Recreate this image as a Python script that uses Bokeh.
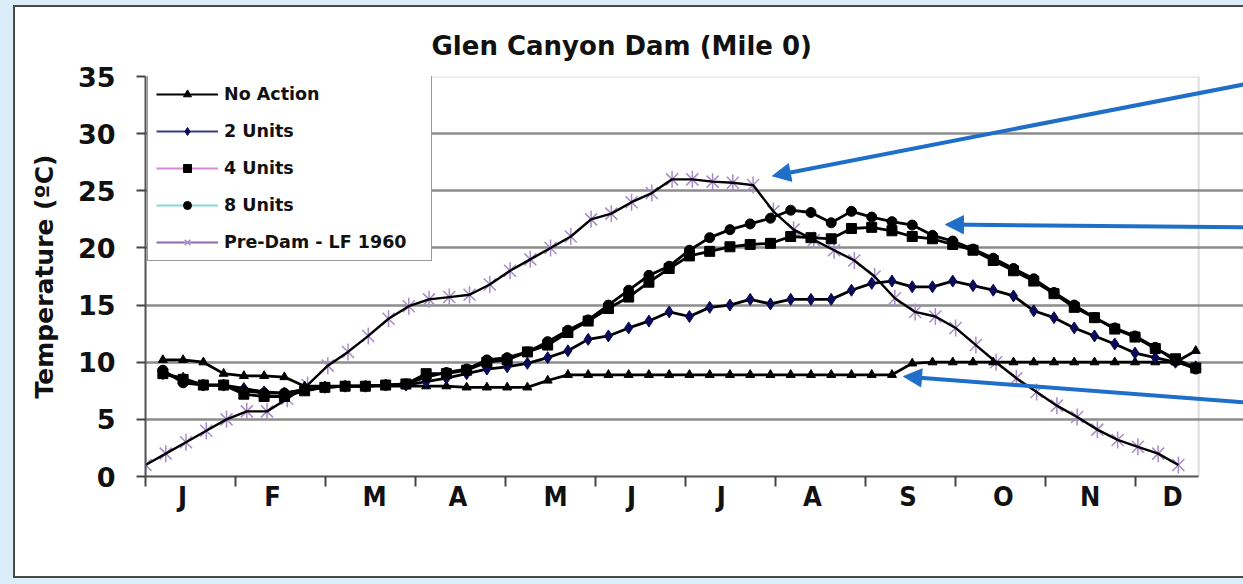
import math
from bokeh.plotting import figure
from bokeh.models import (Range1d, FixedTicker, Legend, LegendItem, Title,
                          Arrow, NormalHead, ColumnDataSource, BoxAnnotation)
from bokeh.embed import file_html
from bokeh.resources import INLINE

# ---------------- data ----------------
month_labels = ["J", "F", "M", "A", "M", "J", "J", "A", "S", "O", "N", "D"]
month_label_day = [12.8, 43.9, 79.2, 108.0, 141.7, 168.0, 199.0, 230.5, 263.5, 296.5, 326.5, 355.0]
month_start_day = [0, 31.1, 62.2, 93.3, 124.4, 155.5, 186.6, 217.7, 248.8, 279.9, 311.0, 342.1]
y_ticks = [0, 5, 10, 15, 20, 25, 30, 35]
axis_x_end = 364     # end of the drawn time axis (days)
axis_y_end = 35      # top of the temperature axis

pre_dam_day = [7 * i for i in range(52)]
model_day = [6 + 7 * i for i in range(52)]

pre_dam = [1.0, 2.0, 3.0, 4.0, 5.0, 5.7, 5.7, 6.8, 8.0, 9.7,
           10.9, 12.3, 13.8, 14.9, 15.5, 15.7, 15.9, 16.8, 18.0, 19.0,
           20.0, 21.0, 22.5, 23.0, 24.0, 24.8, 26.0, 26.0, 25.8, 25.7,
           25.5, 23.2, 21.6, 20.7, 19.8, 18.9, 17.5, 15.6, 14.4, 14.0,
           13.0, 11.5, 10.0, 8.6, 7.4, 6.2, 5.2, 4.1, 3.2, 2.6,
           2.0, 1.0]

no_action = [10.2, 10.2, 10.0, 9.0, 8.8, 8.8, 8.7, 7.9, 7.9, 7.9,
             7.9, 7.9, 7.9, 7.9, 7.9, 7.8, 7.8, 7.8, 7.8, 8.4,
             8.9, 8.9, 8.9, 8.9, 8.9, 8.9, 8.9, 8.9, 8.9, 8.9,
             8.9, 8.9, 8.9, 8.9, 8.9, 8.9, 8.9, 9.9, 10.0, 10.0,
             10.0, 10.0, 10.0, 10.0, 10.0, 10.0, 10.0, 10.0, 10.0, 10.0,
             10.0, 11.0]

units2 = [9.0, 8.6, 8.0, 8.0, 7.7, 7.4, 7.3, 7.6, 7.8, 7.9,
          7.9, 8.0, 8.0, 8.3, 8.6, 9.0, 9.4, 9.6, 9.9, 10.4,
          11.0, 12.0, 12.3, 13.0, 13.6, 14.4, 14.0, 14.8, 15.0, 15.5,
          15.1, 15.5, 15.5, 15.5, 16.3, 16.9, 17.1, 16.6, 16.6, 17.1,
          16.7, 16.3, 15.8, 14.5, 13.9, 13.0, 12.3, 11.6, 10.8, 10.4,
          10.0, 9.6]

units4 = [9.0, 8.5, 8.0, 8.0, 7.2, 7.0, 7.0, 7.5, 7.8, 7.9,
          7.9, 8.0, 8.1, 9.0, 9.0, 9.3, 10.0, 10.2, 10.9, 11.5,
          12.6, 13.6, 14.7, 15.7, 17.0, 18.2, 19.3, 19.7, 20.1, 20.3,
          20.4, 21.0, 20.9, 20.8, 21.7, 21.8, 21.5, 21.0, 20.8, 20.3,
          19.8, 18.9, 18.0, 17.1, 16.0, 14.8, 13.9, 12.9, 12.2, 11.2,
          10.3, 9.5]

units8 = [9.3, 8.2, 8.0, 8.0, 7.5, 7.3, 7.3, 7.6, 7.8, 7.9,
          7.9, 8.0, 8.1, 8.7, 9.1, 9.4, 10.2, 10.4, 10.9, 11.8,
          12.8, 13.7, 15.0, 16.3, 17.6, 18.4, 19.8, 20.9, 21.6, 22.1,
          22.6, 23.3, 23.1, 22.2, 23.2, 22.7, 22.3, 22.0, 21.1, 20.6,
          19.9, 19.1, 18.2, 17.3, 16.1, 15.0, 13.9, 13.0, 12.3, 11.3,
          10.1, 9.4]

# annotation arrows: tail -> tip, in data units
arrow_tail_x = [379.5, 379.5, 379.5]
arrow_tail_y = [34.3, 21.8, 6.5]
arrow_tip_x = [216.7, 276.5, 262.0]
arrow_tip_y = [26.3, 22.05, 8.75]

# ---------------- figure ----------------
FONT = "DejaVu Sans"
W, H = 1243, 584
p = figure(width=W, height=H, title=None,
           x_range=Range1d(0, 379.5), y_range=Range1d(0, 35),
           output_backend="svg", toolbar_location=None,
           min_border_left=145, min_border_right=0, min_border_top=76, min_border_bottom=108)

# light-blue surround with a bordered white panel (CSS background behind a transparent canvas)
p.background_fill_alpha = 0
p.border_fill_alpha = 0
p.outline_line_color = None
p.styles = {
    "background": ("linear-gradient(#ffffff, #ffffff) 15px 7px / calc(100% - 15px) 569px no-repeat, "
                   "linear-gradient(#4a4a4a, #4a4a4a) 13px 5px / calc(100% - 13px) 573px no-repeat, "
                   "#dbedf8"),
}

# title
p.add_layout(Title(text="Glen Canyon Dam (Mile 0)", align="left", offset=286, standoff=31,
                   text_font=FONT, text_font_size="26px", text_font_style="bold",
                   text_color="#111111"), "above")

# grid (limited to the plot box)
p.xgrid.visible = False
p.ygrid.ticker = FixedTicker(ticks=y_ticks)
p.ygrid.bounds = (0, axis_x_end)
p.ygrid.grid_line_color = "#8c8c8c"
p.ygrid.grid_line_width = 2.5

# plot-box border
p.add_layout(BoxAnnotation(left=0, right=axis_x_end, bottom=0, top=axis_y_end,
                           fill_color=None, fill_alpha=0, line_color="#8f8f8f", line_width=2,
                           level="underlay"))

# y axis
p.yaxis.ticker = FixedTicker(ticks=y_ticks)
p.yaxis.bounds = (0, axis_y_end)
p.yaxis.axis_label = "Temperature (ºC)"
p.yaxis.axis_label_text_font = FONT
p.yaxis.axis_label_text_font_size = "25px"
p.yaxis.axis_label_text_font_style = "bold"
p.yaxis.axis_label_text_color = "#111111"
p.yaxis.axis_label_standoff = 16
p.yaxis.major_label_text_font = FONT
p.yaxis.major_label_text_font_size = "27px"
p.yaxis.major_label_text_font_style = "bold"
p.yaxis.major_label_text_color = "#111111"
p.yaxis.major_label_standoff = 21
p.yaxis.major_tick_out = 9
p.yaxis.major_tick_in = 0
p.yaxis.major_tick_line_color = "#444444"
p.yaxis.major_tick_line_width = 2
p.yaxis.minor_tick_line_color = None
p.yaxis.axis_line_color = "#555555"
p.yaxis.axis_line_width = 2

# x axis
p.xaxis.ticker = FixedTicker(ticks=month_label_day, minor_ticks=month_start_day)
p.xaxis.bounds = (0, axis_x_end)
p.xaxis.major_label_overrides = {d: m for d, m in zip(month_label_day, month_labels)}
p.xaxis.major_tick_line_color = None
p.xaxis.major_tick_out = 0
p.xaxis.major_tick_in = 0
p.xaxis.minor_tick_out = 10
p.xaxis.minor_tick_in = 0
p.xaxis.minor_tick_line_color = "#444444"
p.xaxis.minor_tick_line_width = 2
p.xaxis.major_label_standoff = -6
p.xaxis.major_label_text_font = "'DejaVu Sans Condensed', 'Liberation Sans'"
p.xaxis.major_label_text_font_size = "27px"
p.xaxis.major_label_text_font_style = "bold"
p.xaxis.major_label_text_color = "#111111"
p.xaxis.axis_line_color = "#555555"
p.xaxis.axis_line_width = 2

# ---------------- series ----------------
PRE_COL = "#a88cc8"
p.scatter(pre_dam_day, pre_dam, marker="x", size=17, line_color=PRE_COL, line_width=1.5)
p.scatter(pre_dam_day, pre_dam, marker="dash", angle=math.pi / 2, size=17,
          line_color=PRE_COL, line_width=1.5)

p.line(model_day, no_action, line_color="black", line_width=2.8)
p.scatter(model_day, no_action, marker="triangle", size=9, fill_color="black", line_color="black")

p.line(model_day, units2, line_color="black", line_width=2.8)
p.scatter(model_day, units2, marker="diamond", size=12, fill_color="#0a0a55", line_color="#0a0a55")

p.line(model_day, units4, line_color="black", line_width=2.8)
p.scatter(model_day, units4, marker="square", size=10, fill_color="black", line_color="black")

p.line(model_day, units8, line_color="black", line_width=2.8)
p.scatter(model_day, units8, marker="circle", size=10, fill_color="black", line_color="black")

p.line(pre_dam_day, pre_dam, line_color="black", line_width=2.4)

# ---------------- legend (own swatch colours) ----------------
def offscreen():
    # swatch-only renderers: their points lie outside the visible ranges
    return ColumnDataSource(data=dict(x=[-500, -400], y=[-50, -50]))

leg_specs = [
    ("No Action", "black", "triangle", "black", 9),
    ("2 Units", "#3c3c7c", "diamond", "#0a0a55", 11),
    ("4 Units", "#d58ad5", "square", "black", 10),
    ("8 Units", "#86d8d8", "circle", "black", 10),
]
items = []
for label, lcol, mk, mcol, ms in leg_specs:
    lr = p.line("x", "y", source=offscreen(), line_color=lcol, line_width=2)
    sr = p.scatter("x", "y", source=offscreen(), marker=mk, size=ms, fill_color=mcol, line_color=mcol)
    items.append(LegendItem(label=label, renderers=[lr, sr]))
lr = p.line("x", "y", source=offscreen(), line_color="#8a6aa8", line_width=2)
s1 = p.scatter("x", "y", source=offscreen(), marker="x", size=13, line_color=PRE_COL, line_width=1.5)
s2 = p.scatter("x", "y", source=offscreen(), marker="dash", angle=math.pi / 2, size=13,
               line_color=PRE_COL, line_width=1.5)
items.append(LegendItem(label="Pre-Dam - LF 1960", renderers=[lr, s1, s2]))

legend = Legend(items=items, location=(2, 215), margin=0, padding=8, spacing=17,
                glyph_height=20, glyph_width=62, label_height=20, label_width=199,
                label_standoff=6, label_text_font=FONT, label_text_font_size="17.5px",
                label_text_font_style="bold", label_text_color="#111111",
                border_line_color="#333333", border_line_width=1.5,
                background_fill_color="white", background_fill_alpha=1.0)
p.add_layout(legend)

# ---------------- arrows ----------------
BLUE = "#1f6fc8"
for xs, ys, xe, ye in zip(arrow_tail_x, arrow_tail_y, arrow_tip_x, arrow_tip_y):
    p.add_layout(Arrow(end=NormalHead(size=18, fill_color=BLUE, line_color=BLUE, line_width=1),
                       x_start=xs, y_start=ys, x_end=xe, y_end=ye,
                       line_color=BLUE, line_width=4))

open("out.html", "w").write(file_html(p, INLINE))
